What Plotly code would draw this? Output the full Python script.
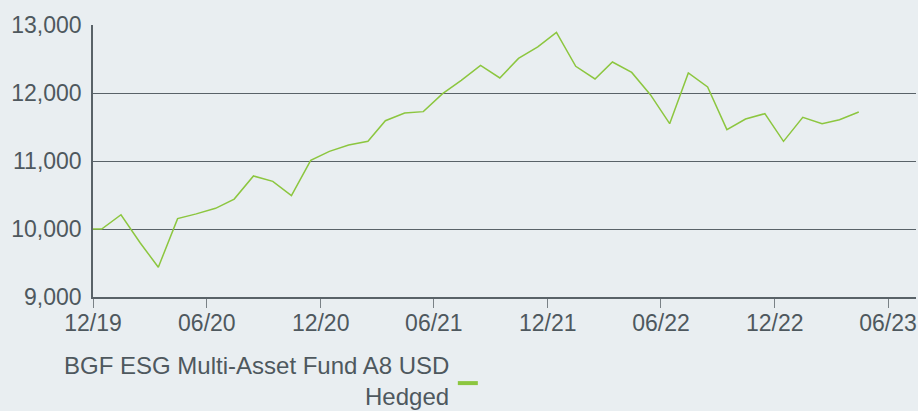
import plotly.graph_objects as go

dates = [
    "2019-12-01", "2019-12-15", "2020-01-15", "2020-02-15", "2020-03-15", "2020-04-15",
    "2020-05-15", "2020-06-15", "2020-07-15", "2020-08-15", "2020-09-15", "2020-10-15",
    "2020-11-15", "2020-12-15", "2021-01-15", "2021-02-15", "2021-03-15", "2021-04-15",
    "2021-05-15", "2021-06-15", "2021-07-15", "2021-08-15", "2021-09-15", "2021-10-15",
    "2021-11-15", "2021-12-15", "2022-01-15", "2022-02-15", "2022-03-15", "2022-04-15",
    "2022-05-15", "2022-06-15", "2022-07-15", "2022-08-15", "2022-09-15", "2022-10-15",
    "2022-11-15", "2022-12-15", "2023-01-15", "2023-02-15", "2023-03-15", "2023-04-15",
]
values = [
    10000, 10000, 10210, 9795, 9437, 10153,
    10222, 10304, 10440, 10780, 10701, 10491,
    11010, 11142, 11236, 11289, 11593, 11706,
    11726, 11990, 12186, 12406, 12221, 12509,
    12677, 12891, 12392, 12206, 12456, 12303,
    11975, 11549, 12294, 12089, 11461, 11618,
    11696, 11289, 11642, 11549, 11608, 11721,
]
series_name = "BGF ESG Multi-Asset Fund A8 USD Hedged"
legend_lines = ["BGF ESG Multi-Asset Fund A8 USD", "Hedged"]

x_tick_vals = ["2019-12-01", "2020-06-01", "2020-12-01", "2021-06-01",
               "2021-12-01", "2022-06-01", "2022-12-01", "2023-06-01"]
x_tick_text = ["12/19", "06/20", "12/20", "06/21", "12/21", "06/22", "12/22", "06/23"]
y_tick_vals = [9000, 10000, 11000, 12000, 13000]

GREEN = "#8cc63f"
TEXT = "#4e585e"
GRID = "#596268"
BG = "#e9eef1"
FONT = "Liberation Sans, Arial, sans-serif"

fig = go.Figure()
fig.add_trace(go.Scatter(
    x=dates, y=values, mode="lines", name=series_name,
    line=dict(color=GREEN, width=1.5), showlegend=False,
))

fig.update_layout(
    width=918, height=411,
    margin=dict(l=93, r=2, t=25, b=114),
    paper_bgcolor=BG, plot_bgcolor=BG,
    font=dict(family=FONT, color=TEXT, size=23),
    xaxis=dict(
        type="date",
        range=["2019-12-01", "2023-07-16"],
        tickmode="array", tickvals=x_tick_vals, ticktext=x_tick_text,
        ticks="outside", ticklen=9, tickwidth=1, tickcolor="#7a8287",
        ticklabelstandoff=-4,
        showgrid=False, zeroline=False,
        showline=True, linecolor=GRID, linewidth=1.5,
        tickfont=dict(size=23, color=TEXT),
    ),
    yaxis=dict(
        range=[9000, 13000],
        tickmode="array", tickvals=y_tick_vals,
        tickformat=",",
        ticks="", ticklabelstandoff=5,
        showgrid=True, gridcolor=GRID, gridwidth=1,
        zeroline=False,
        showline=True, linecolor=GRID, linewidth=1.5,
        tickfont=dict(size=23, color=TEXT),
    ),
    showlegend=False,
)

# legend (text right-aligned with swatch on its right, as in the reference)
fig.add_annotation(
    x=0.4336, y=-0.250, xref="paper", yref="paper",
    text=legend_lines[0], showarrow=False, xanchor="right", yanchor="middle",
    borderpad=0,
    font=dict(size=24, color=TEXT, family=FONT),
)
fig.add_annotation(
    x=0.4336, y=-0.3644, xref="paper", yref="paper",
    text=legend_lines[1], showarrow=False, xanchor="right", yanchor="middle",
    borderpad=0,
    font=dict(size=24, color=TEXT, family=FONT),
)
fig.add_shape(
    type="rect", xref="paper", yref="paper",
    x0=0.4433, x1=0.4676, y0=-0.3239, y1=-0.3092,
    fillcolor=GREEN, line=dict(width=0),
)

fig.write_html("out.html")
